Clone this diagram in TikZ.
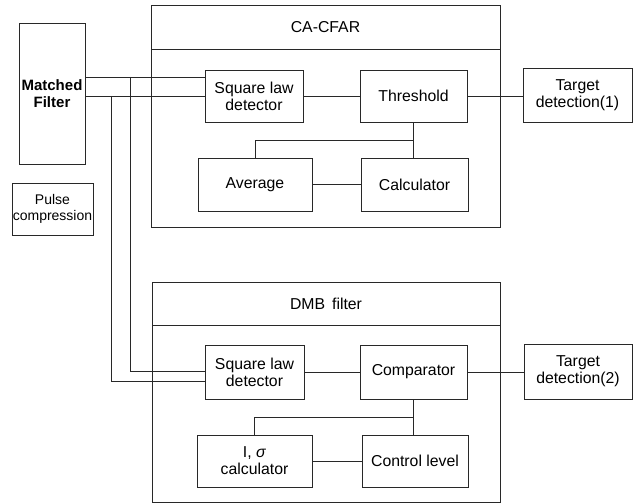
\documentclass[tikz,border=0pt]{standalone}
\usepackage{fontspec}
\setmainfont{Liberation Sans}
\usetikzlibrary{positioning,calc}
\definecolor{ink}{RGB}{40,40,40}
\tikzset{
  block/.style={draw=ink, line width=0.9pt, align=center, inner sep=1pt,
    font=\fontsize{15.8}{17}\selectfont},
  frame/.style={draw=ink, line width=0.9pt},
  title/.style={font=\fontsize{15.8}{17}\selectfont},
  wire/.style={draw=ink, line width=0.9pt}
}
\begin{document}
\begin{tikzpicture}[x=1pt,y=-1pt]
\useasboundingbox (0,0) rectangle (638,503);
% front end
\node[block,minimum width=66pt,minimum height=141pt,font=\bfseries\fontsize{15}{17}\selectfont] (mf) at (52,93.5) {Matched\\Filter};
\node[block,minimum width=81pt,minimum height=52pt,inner sep=0pt,font=\fontsize{14}{16}\selectfont] (pulse) at (52.5,209) {Pulse\\compression};
% CA-CFAR branch
\draw[frame] (151,5) rectangle (500,227);
\draw[frame] (151,49) -- (500,49);
\node[title] (cfar) at (325.5,27) {CA-CFAR};
\node[block,minimum width=98pt,minimum height=52pt] (sq1) at (254,96) {Square law\\detector};
\node[block,minimum width=107pt,minimum height=52pt] (thr) at (413.5,96) {Threshold};
\node[block,minimum width=114pt,minimum height=53pt] (avg) at (255,184.5) {Average};
\node[block,minimum width=107pt,minimum height=53pt] (calc) at (414.5,184.5) {Calculator};
\node[block,minimum width=109pt,minimum height=54pt] (td1) at (577.5,95) {Target\\detection(1)};
% DMB branch
\draw[frame] (152,282) rectangle (500,502);
\draw[frame] (152,325) -- (500,325);
\node[title] (dmb) at (326,304) {DMB\, filter};
\node[block,minimum width=99pt,minimum height=54pt] (sq2) at (254.5,372) {Square law\\detector};
\node[block,minimum width=107pt,minimum height=54pt] (comp) at (413.5,372) {Comparator};
\node[block,minimum width=115pt,minimum height=52pt] (isig) at (254.5,461) {I, \textit{σ}\\calculator};
\node[block,minimum width=106pt,minimum height=52pt] (ctrl) at (415,461) {Control level};
\node[block,minimum width=108pt,minimum height=55pt] (td2) at (578,371.5) {Target\\detection(2)};
% taps from the matched filter
\coordinate (tapA) at (130,77);
\coordinate (tapB) at (111,96);
\coordinate (dropA) at (130,371);
\coordinate (dropB) at (111,381);
\draw[wire] (mf.east |- tapA) -- (sq1.west |- tapA);
\draw[wire] (mf.east |- tapB) -- (sq1.west |- tapB);
\draw[wire] (tapA) -- (dropA) -- (sq2.west |- dropA);
\draw[wire] (tapB) -- (dropB) -- (sq2.west |- dropB);
% CA-CFAR wiring
\draw[wire] (sq1) -- (thr);
\draw[wire] (thr.east) -- (thr.east -| td1.west);
\draw[wire] (thr.south) -- (thr.south |- calc.north);
\draw[wire] ($(thr.south)!0.5!(thr.south |- calc.north)$) -| (avg.north);
\draw[wire] (avg) -- (calc);
% DMB wiring
\draw[wire] (sq2) -- (comp);
\draw[wire] (comp.east) -- (comp.east -| td2.west);
\draw[wire] (comp.south) -- (comp.south |- ctrl.north);
\draw[wire] ($(comp.south)!0.5!(comp.south |- ctrl.north)$) -| (isig.north);
\draw[wire] (isig) -- (ctrl);
\end{tikzpicture}
\end{document}
